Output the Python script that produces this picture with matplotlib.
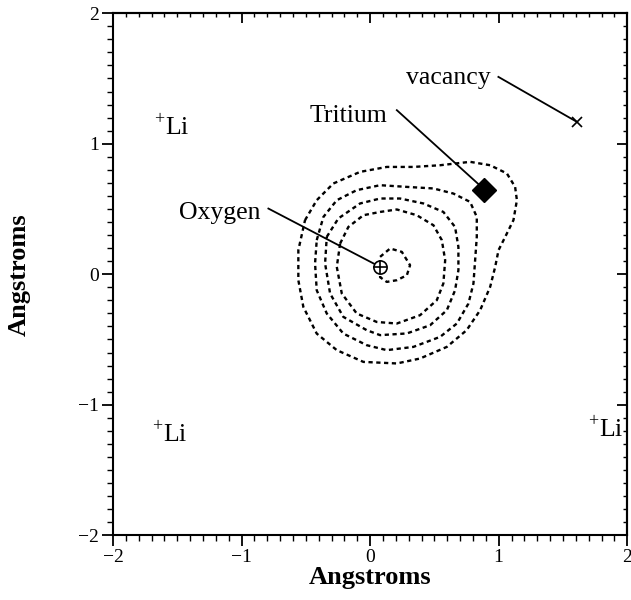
import matplotlib
matplotlib.use("Agg")
import matplotlib.pyplot as plt
from matplotlib.ticker import MultipleLocator

plt.rcParams['font.family'] = ['Liberation Serif', 'DejaVu Serif']
plt.rcParams['mathtext.fontset'] = 'custom'
plt.rcParams['mathtext.rm'] = 'Liberation Serif'

# contour lines (Angstroms)
ring1_x = [0.078, 0.156, 0.247, 0.311, 0.286, 0.208, 0.130, 0.078]
ring1_y = [0.133, 0.197, 0.171, 0.069, -0.008, -0.046, -0.059, -0.023]

ring2_x = [-0.233, -0.169, -0.052, 0.078, 0.208, 0.363, 0.493, 0.558, 0.584,
           0.570, 0.519, 0.389, 0.208, 0.052, -0.104, -0.220, -0.259]
ring2_y = [0.235, 0.362, 0.452, 0.477, 0.496, 0.452, 0.375, 0.261, 0.107,
           -0.071, -0.199, -0.314, -0.378, -0.366, -0.301, -0.148, 0.056]

ring3_x = [-0.337, -0.247, -0.078, 0.078, 0.233, 0.415, 0.570, 0.661, 0.687,
           0.687, 0.661, 0.597, 0.467, 0.286, 0.078, -0.026, -0.208, -0.311, -0.350]
ring3_y = [0.286, 0.427, 0.542, 0.580, 0.580, 0.542, 0.477, 0.362, 0.209,
           0.031, -0.123, -0.276, -0.391, -0.454, -0.467, -0.429, -0.327, -0.148, 0.082]

ring4_x = [-0.415, -0.363, -0.259, -0.104, 0.078, 0.286, 0.493, 0.648, 0.778,
           0.830, 0.830, 0.817, 0.804, 0.765, 0.675, 0.545, 0.337, 0.130,
           -0.026, -0.208, -0.337, -0.415, -0.428]
ring4_y = [0.261, 0.439, 0.567, 0.644, 0.682, 0.669, 0.657, 0.618, 0.554,
           0.439, 0.286, 0.107, -0.071, -0.225, -0.378, -0.480, -0.557, -0.582,
           -0.544, -0.455, -0.301, -0.123, 0.082]

ring5_x = [-0.506, -0.415, -0.286, -0.078, 0.130, 0.337, 0.545, 0.778, 0.934,
           1.064, 1.128, 1.142, 1.115, 1.051, 0.999, 0.973, 0.934, 0.856, 0.751,
           0.597, 0.389, 0.208, -0.052, -0.259, -0.415, -0.519, -0.558, -0.558]
ring5_y = [0.414, 0.567, 0.695, 0.784, 0.822, 0.822, 0.835, 0.861, 0.835,
           0.772, 0.669, 0.567, 0.414, 0.286, 0.184, 0.056, -0.097, -0.276, -0.429,
           -0.557, -0.646, -0.684, -0.672, -0.582, -0.455, -0.251, -0.046, 0.184]

rings = [(ring1_x, ring1_y), (ring2_x, ring2_y), (ring3_x, ring3_y),
         (ring4_x, ring4_y), (ring5_x, ring5_y)]

oxygen = (0.078, 0.056)
tritium = (0.889, 0.649)
vacancy = (1.609, 1.167)
li_labels = [(-1.68, 1.065, 'left'), (-1.70, -1.287, 'left'), (1.975, -1.249, 'right')]
ticks = [-2, -1, 0, 1, 2]

fig = plt.figure(figsize=(6.31, 6.0), dpi=100)
ax = fig.add_axes([0.179, 0.108, 0.815, 0.870])

for rx, ry in rings:
    ax.plot(list(rx) + [rx[0]], list(ry) + [ry[0]], color='black',
            lw=1.7, ls=(0, (1.8, 1.5)))

# leader lines
ax.plot([-0.791, oxygen[0]], [0.503, oxygen[1]], color='black', lw=1.3)
ax.plot([0.208, tritium[0]], [1.257, tritium[1]], color='black', lw=1.3)
ax.plot([0.998, vacancy[0]], [1.512, vacancy[1]], color='black', lw=1.3)

# markers
ax.plot(*oxygen, marker='o', ms=9.5, mfc='white', mec='black', mew=1.2)
ax.plot(*oxygen, marker='+', ms=9.5, mec='black', mew=1.2)
ax.plot(*tritium, marker='D', ms=12, color='black')
ax.plot(*vacancy, marker='x', ms=7, mec='black', mew=1.2)

tsize = 18.5
ax.text(-0.856, 0.467, 'Oxygen', fontsize=tsize, ha='right', va='center')
ax.text(-0.171, 1.211, 'Tritium', fontsize=tsize, ha='center', va='center')
ax.text(0.934, 1.50, 'vacancy', fontsize=tsize, ha='right', va='center')
for lx, ly, ha in li_labels:
    ax.text(lx, ly, r'$^{+}$Li', fontsize=tsize, ha=ha, va='baseline')

ax.set_xlim(-2, 2)
ax.set_ylim(-2, 2)
ax.set_xticks(ticks)
ax.set_yticks(ticks)
ax.xaxis.set_minor_locator(MultipleLocator(0.1))
ax.yaxis.set_minor_locator(MultipleLocator(0.1))
ax.tick_params(which='major', direction='out', length=8, width=1.3, labelsize=14, pad=2)
ax.tick_params(which='minor', direction='out', length=4, width=1.0)

# inward ticks on top and right
top = ax.secondary_xaxis('top')
top.set_xticks(ticks)
top.xaxis.set_minor_locator(MultipleLocator(0.1))
top.tick_params(which='major', direction='in', length=7, width=1.3, labeltop=False)
top.tick_params(which='minor', direction='in', length=3, width=1.0)
right = ax.secondary_yaxis('right')
right.set_yticks(ticks)
right.yaxis.set_minor_locator(MultipleLocator(0.1))
right.tick_params(which='major', direction='in', length=7, width=1.3, labelright=False)
right.tick_params(which='minor', direction='in', length=3, width=1.0)

for sp in ax.spines.values():
    sp.set_linewidth(1.5)
top.spines['top'].set_linewidth(1.5)
right.spines['right'].set_linewidth(1.5)

ax.set_xlabel('Angstroms', fontsize=19, fontweight='bold', labelpad=0)
ax.set_ylabel('Angstroms', fontsize=19, fontweight='bold', labelpad=34)

fig.savefig('out.png', dpi=100)
